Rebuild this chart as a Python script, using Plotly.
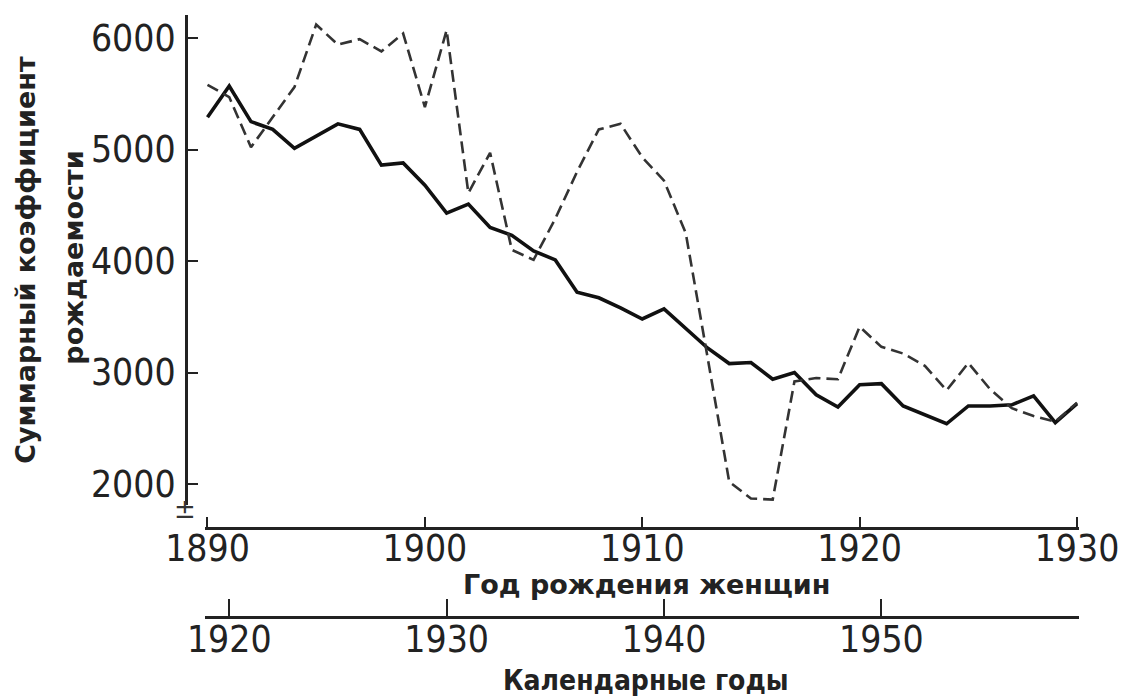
import plotly.graph_objects as go

# ---- data ----
birth_years = list(range(1890, 1931))
cohort_tfr = [5290, 5570, 5250, 5180, 5010, 5120, 5230, 5180, 4860, 4880,
              4680, 4430, 4510, 4300, 4230, 4090, 4010, 3720, 3670, 3580,
              3480, 3570, 3390, 3220, 3080, 3090, 2940, 3000, 2800, 2690,
              2890, 2900, 2700, 2620, 2540, 2700, 2700, 2710, 2790, 2550,
              2720]
calendar_years = list(range(1919, 1960))
period_tfr = [5580, 5470, 5020, 5290, 5560, 6120, 5940, 5990, 5880, 6040,
              5380, 6070, 4610, 4970, 4100, 4010, 4380, 4800, 5180, 5230,
              4930, 4720, 4250, 3140, 2020, 1870, 1860, 2920, 2950, 2940,
              3410, 3230, 3170, 3060, 2840, 3085, 2850, 2680, 2610, 2560,
              2730]
shift = 29
y_ticks = [2000, 3000, 4000, 5000, 6000]
birth_ticks = [1890, 1900, 1910, 1920, 1930]
cal_ticks = [1920, 1930, 1940, 1950]

# ---- geometry (window pixels; body margin removed so figure starts at 0,0) ----
W, H = 1131, 697
PL, PR, PT, PB = 186, 1100, 15, 617   # plot area
PW, PH = PR - PL, PB - PT
def fx(px):
    return (px - PL) / PW
def fy(py):
    return (PB - py) / PH

x_lo = 1890 - 3 / 22.25
x_hi = 1890 + (1100 - 208) / 22.25
y_lo = 2000 - (505 - 484) / 0.1115
y_hi = 6000 + (38 - 15) / 0.1115

narrow = "Liberation Sans Narrow, DejaVu Sans Condensed, sans-serif"
xtick_font = dict(family=narrow, size=37, color="#222")
ytick_font = dict(family=narrow, size=37, color="#222")
title_font = dict(family="DejaVu Sans, sans-serif", size=27, color="#222", weight="bold")

fig = go.Figure()
fig.add_trace(go.Scatter(x=calendar_years, y=period_tfr, xaxis="x2", yaxis="y",
                         mode="lines", line=dict(color="#333", width=2.6, dash="12px,6px"),
                         showlegend=False, hoverinfo="skip"))
fig.add_trace(go.Scatter(x=birth_years, y=cohort_tfr, xaxis="x", yaxis="y",
                         mode="lines", line=dict(color="#111", width=3.6),
                         showlegend=False, hoverinfo="skip"))

fig.update_layout(
    width=W, height=H,
    margin=dict(l=PL, r=W - PR, t=PT, b=H - PB, pad=0),
    paper_bgcolor="white", plot_bgcolor="white",
    xaxis=dict(domain=[fx(205), 1], anchor="free", position=fy(528),
               range=[x_lo, x_hi], tickvals=birth_ticks, ticktext=[str(v) for v in birth_ticks],
               ticks="inside", ticklen=10, tickwidth=2, tickcolor="#222",
               showline=True, linewidth=3, linecolor="#222",
               showgrid=False, zeroline=False, tickfont=xtick_font,
               ticklabelstandoff=-13, ticklabeloverflow="allow"),
    xaxis2=dict(overlaying="x", anchor="free", position=0, domain=[fx(205), 1],
                range=[x_lo + shift, x_hi + shift], tickvals=cal_ticks,
                ticktext=[str(v) for v in cal_ticks],
                ticks="inside", ticklen=17, tickwidth=2, tickcolor="#222",
                showline=True, linewidth=3, linecolor="#222",
                showgrid=False, zeroline=False, tickfont=xtick_font, side="bottom",
                ticklabelstandoff=-11, ticklabeloverflow="allow"),
    yaxis=dict(domain=[fy(505), 1], anchor="free", position=0,
               range=[y_lo, y_hi], tickvals=y_ticks, ticktext=[str(v) for v in y_ticks],
               ticks="inside", ticklen=10, tickwidth=2, tickcolor="#222",
               showline=True, linewidth=3, linecolor="#222",
               showgrid=False, zeroline=False, tickfont=ytick_font,
               ticklabelstandoff=2),
)

ann = [
    dict(text="Суммарный коэффициент", x=fx(21), y=fy(260), textangle=-90),
    dict(text="рождаемости", x=fx(70), y=fy(258), textangle=-90),
    dict(text="Год рождения женщин", x=fx(657), y=fy(584)),
    dict(text="Календарные годы", x=fx(657), y=fy(680),
         font=dict(family=narrow, size=28, color="#222", weight="bold")),
    dict(text="±", x=fx(185), y=fy(509), font=dict(family="DejaVu Sans", size=26, color="#333")),
]
for a in ann:
    fig.add_annotation(xref="paper", yref="paper", showarrow=False,
                       xanchor="center", yanchor="middle", borderpad=0,
                       font=a.pop("font", title_font), **a)

fig.write_html("out.html",
               config={"displayModeBar": False},
               post_script="document.body.style.margin='0';document.body.style.overflow='hidden';")
